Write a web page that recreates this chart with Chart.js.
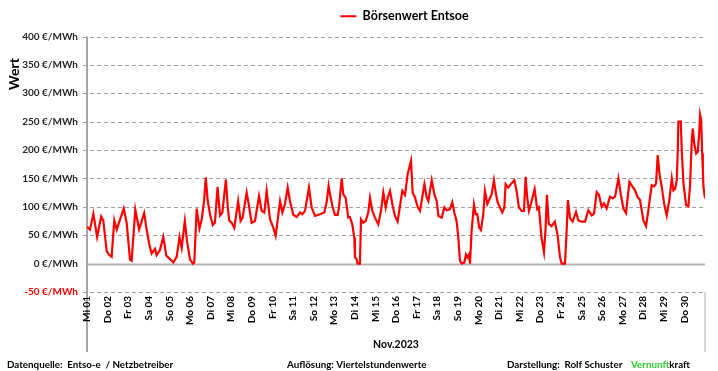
<!DOCTYPE html>
<html><head><meta charset="utf-8">
<script src="https://cdn.jsdelivr.net/npm/chart.js@4"></script>
<style>html,body{margin:0;padding:0;background:#fff}#wrap{width:718px;height:371px}</style>
</head><body><div id="wrap"><canvas id="c" width="718" height="371"></canvas></div>
<script>
const seriesName = 'Börsenwert Entsoe';
const yTitle = 'Wert';
const xTitle = 'Nov.2023';
const dayLabels = ['Mi 01','Do 02','Fr 03','Sa 04','So 05','Mo 06','Di 07','Mi 08','Do 09','Fr 10',
  'Sa 11','So 12','Mo 13','Di 14','Mi 15','Do 16','Fr 17','Sa 18','So 19','Mo 20',
  'Di 21','Mi 22','Do 23','Fr 24','Sa 25','So 26','Mo 27','Di 28','Mi 29','Do 30'];
// time in hours since 01.11.2023 00:00
const hours = [0,3.5,7.4,11.8,16.5,19,22.9,25.5,28.7,31.8,34.6,37.7,42.8,46.2,50.1,52,56.3,60.7,66.6,69.5,
  72.4,75.3,79.2,81.1,85,88.9,92.4,96.7,100.6,104.5,107.8,110.3,114,116.5,120,123.5,125,127.8,131,133.8,
  136.5,138.4,140.5,143.3,146.5,149,152.1,155,157.7,161.8,164,165.6,168.5,171.6,176.1,178.9,181.3,186,188.7,191.8,
  195.7,200.4,203.5,206.6,209.3,213.2,217.1,219.8,224.9,227.6,230.7,233.8,236.5,240.4,244.3,248.2,250.9,254,258.6,261.7,
  265.6,271.4,276.5,279.2,281.5,283.1,285.8,288.9,292,293.6,296.7,298.6,301.3,304.4,306.4,309.1,311.4,312.2,314.1,315.3,
  318,319.2,321.9,324.6,327.7,329.7,332.4,335.5,339.4,342.5,345.2,348,350.3,353,356.1,358.8,361.9,364.7,367.4,370.5,
  373.6,377.5,379.4,382.2,385.3,388,393.1,395.8,397.7,401.6,404.7,407.5,409.4,413.3,416.4,419.1,422.9,425.6,427.9,430.6,
  432.6,434.5,436.5,439.6,441.5,443.1,445,446.2,448.1,450.8,452.8,454.7,457,459,461.7,463.6,466.4,468.7,471.4,474.1,
  476.5,478.4,481.1,483.8,486.2,487.7,490.8,493.9,497.8,500.5,503.2,506.3,509.1,511,512.9,514.9,517.2,521.5,524.5,526.5,
  529.6,532.4,534.3,535.8,538,541.3,545,548.3,551,553,556.9,558.8,560.3,562.7,565.8,569.7,572.4,576.3,580.2,584.1,
  588,590.7,593.8,596.5,599.6,602.3,605.4,609.3,612.4,615.2,619.1,621.8,624.9,628,631.9,634.6,638.5,641.2,644.3,648.2,
  651.3,654,657.9,660.6,663,664.9,666.9,669.6,672.3,675.4,678.5,681.3,683.2,685.2,687.1,688.3,689,691.8,692.9,694.9,
  698,700.7,702.7,704.6,705.8,707.4,709.7,711.6,713.2,714.3,715.5,716.7,717.5,718.2,720];
const prices = [65,60,88,47,83,76,22,16,12,76,60,74,97,72,7,5,95,60,89,60,
  35,18,26,15,24,47,14,8,2,12,47,28,75,40,7,0,2,97,62,79,
  112,152,112,87,68,72,135,85,90,148,100,76,72,63,110,75,81,125,102,72,
  75,119,93,90,128,78,63,49,110,90,105,134,110,86,82,90,87,93,134,99,
  84,87,90,108,137,122,102,86,86,99,150,122,116,81,82,69,46,11,8,0,
  0,78,72,75,90,116,93,81,69,93,125,99,116,128,102,84,74,102,128,121,
  158,181,125,116,99,93,140,116,110,147,122,110,84,81,99,94,96,108,90,75,
  46,5,0,2,16,11,16,0,58,104,87,87,63,59,87,128,105,113,122,147,
  122,108,99,90,99,140,134,140,147,128,99,93,93,153,116,93,105,131,96,99,
  45,20,63,121,70,66,74,50,12,0,0,58,112,80,74,91,76,74,74,94,
  85,88,126,121,100,106,97,118,115,118,150,123,97,89,144,138,129,118,112,76,
  66,94,138,136,141,191,159,135,106,85,112,150,129,132,147,200,250,250,200,141,
  103,101,141,218,238,212,194,197,229,262,253,194,165,135,115];
const footerParts = [
  {text:'Datenquelle:  Entso-e  / Netzbetreiber', x:7, color:'#000000'},
  {text:'Auflösung: Viertelstundenwerte', x:287, color:'#000000'},
  {text:'Darstellung:  Rolf Schuster', x:507, color:'#000000'},
  {text:'Vernunft', x:631, color:'#2ecc2e'},
  {text:'kraft', x:null, color:'#000000'}
];

const FONT = 'Lato, "Open Sans", sans-serif';

const deco = {
  id: 'deco',
  afterLayout(chart) {
    const lg = chart.legend;
    if (lg) { lg.left += 52; lg.right += 52; lg.top -= 4; lg.bottom -= 4; }
  },
  beforeDraw(chart) {
    const {ctx, chartArea: a} = chart;
    ctx.save();
    ctx.strokeStyle = '#a6a6a6';
    ctx.lineWidth = 2;
    ctx.beginPath(); ctx.moveTo(a.left, a.top); ctx.lineTo(a.left, 352); ctx.stroke();
    ctx.strokeStyle = '#c8c8c8';
    ctx.lineWidth = 1.5;
    ctx.beginPath(); ctx.moveTo(a.right, a.bottom); ctx.lineTo(a.right, 352); ctx.stroke();
    ctx.restore();
  },
  beforeDatasetsDraw(chart) {
    const {ctx, chartArea: a, scales: {y}} = chart;
    ctx.save();
    y.ticks.forEach(t => {
      const py = Math.round(y.getPixelForValue(t.value)) + 0.5;
      ctx.beginPath();
      if (t.value === 0) {
        ctx.setLineDash([]);
        ctx.strokeStyle = '#b4b4b4';
        ctx.lineWidth = 2;
        ctx.moveTo(a.left, py); ctx.lineTo(a.right, py);
      } else {
        ctx.setLineDash([4, 3]);
        ctx.strokeStyle = '#a0a0a0';
        ctx.lineWidth = 1;
        ctx.moveTo(a.left - 4, py); ctx.lineTo(a.right, py);
      }
      ctx.stroke();
    });
    ctx.restore();
  },
  afterDraw(chart) {
    const {ctx} = chart;
    ctx.save();
    ctx.fillStyle = '#000';
    ctx.font = 'bold 14px ' + FONT;
    ctx.textAlign = 'center'; ctx.textBaseline = 'middle';
    ctx.translate(14, 74); ctx.rotate(-Math.PI/2);
    ctx.fillText(yTitle, 0, 0);
    ctx.restore();
    ctx.save();
    ctx.font = 'bold 9.8px ' + FONT;
    ctx.textAlign = 'left'; ctx.textBaseline = 'middle';
    let lastEnd = 0;
    footerParts.forEach(p => {
      const x = p.x === null ? lastEnd : p.x;
      ctx.fillStyle = p.color;
      ctx.fillText(p.text, x, 365);
      lastEnd = x + ctx.measureText(p.text).width;
    });
    ctx.restore();
  }
};

new Chart(document.getElementById('c'), {
  type: 'line',
  data: {
    datasets: [{
      label: seriesName,
      data: hours.map((h, i) => ({x: h, y: prices[i]})),
      borderColor: '#ff0000',
      backgroundColor: '#ff0000',
      borderWidth: 2.2,
      pointRadius: 0,
      tension: 0
    }]
  },
  options: {
    responsive: false,
    animation: false,
    layout: {padding: {top: 6, right: 13, bottom: 0, left: 0}},
    plugins: {
      legend: {
        display: true,
        position: 'top',
        labels: {
          usePointStyle: true,
          pointStyle: 'line',
          pointStyleWidth: 16,
          color: '#000',
          font: {family: FONT, size: 12.5, weight: 'bold'},
          padding: 8
        }
      },
      tooltip: {enabled: false}
    },
    scales: {
      x: {
        type: 'linear',
        min: 0, max: 720,
        afterFit: s => { s.height = 79; },
        afterBuildTicks: s => { s.ticks = dayLabels.map((_, i) => ({value: i * 24})); },
        ticks: {
          autoSkip: false, maxRotation: 90, minRotation: 90,
          padding: 4, color: '#000',
          font: {family: FONT, size: 10, weight: 'bold'},
          callback: v => dayLabels[Math.round(v / 24)] || ''
        },
        grid: {display: false, drawTicks: false},
        border: {display: false},
        title: {display: true, text: xTitle, color: '#000',
          font: {family: FONT, size: 10.5, weight: 'bold'}, padding: {top: 0, bottom: 20}}
      },
      y: {
        min: -50, max: 400,
        afterFit: s => { s.width = 87; },
        ticks: {
          stepSize: 50, padding: 9,
          color: c => c.tick && c.tick.value < 0 ? '#ff0000' : '#262626',
          font: {family: FONT, size: 10, weight: 'bold'},
          callback: v => v + ' €/MWh'
        },
        grid: {display: false, drawTicks: false},
        border: {display: false}
      }
    }
  },
  plugins: [deco]
});
</script>
</body></html>
